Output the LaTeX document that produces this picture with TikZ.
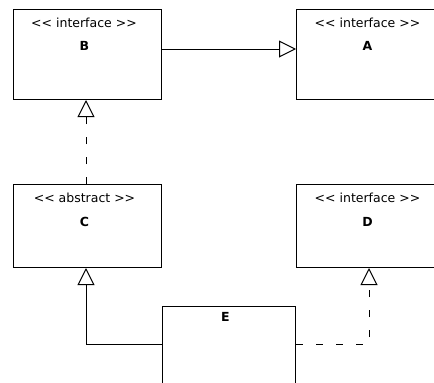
\documentclass[tikz,border=0pt]{standalone}
\usepackage{fontspec}
\setmainfont{DejaVu Sans}
\usetikzlibrary{arrows.meta}
\tikzset{
  umlbox/.style={draw=black, line width=1pt, fill=white, inner sep=0pt, minimum width=148pt, anchor=north west},
  stereo/.style={font=\fontsize{12.5}{14}\selectfont, inner sep=0pt, anchor=base},
  cname/.style={font=\fontsize{12.5}{14}\selectfont\bfseries, inner sep=0pt, anchor=base},
  conn/.style={draw=black, line width=1pt},
  gen/.style={-{Triangle[open, length=17pt, width=17pt, fill=white]}},
  realize/.style={dash pattern=on 7pt off 13pt}
}
\begin{document}
\begin{tikzpicture}[x=1pt, y=-1pt]
\useasboundingbox (0,0) rectangle (434,383);
\clip (0,0) rectangle (434,383);
\fill[white] (0,0) rectangle (434,383);
% boxes
\node[umlbox, minimum height=90pt] (B) at (13,9) {};
\node[umlbox, minimum height=90pt] (A) at (296,9) {};
\node[umlbox, minimum height=83pt] (C) at (13,184) {};
\node[umlbox, minimum height=83pt] (D) at (296,184) {};
\node[umlbox, minimum width=133pt, minimum height=90pt] (E) at (162,306) {};
% texts
\node[stereo] (Bs) at (84,27) {<{}< interface >{}>};
\node[cname] (Bn) at (84.5,50) {B};
\node[stereo] (As) at (367.5,27) {<{}< interface >{}>};
\node[cname] (An) at (367.5,50) {A};
\node[stereo] (Cs) at (84.5,202) {<{}< abstract >{}>};
\node[cname] (Cn) at (84.5,226) {C};
\node[stereo] (Ds) at (367.5,202) {<{}< interface >{}>};
\node[cname] (Dn) at (367.5,226) {D};
\node[cname] (En) at (225.5,321) {E};
% connectors
\coordinate (ce) at (86,344);
\coordinate (de) at (369,344);
\draw[conn, gen] (B.east |- 0,49) -- (A.west |- 0,49);
\draw[conn, gen, realize] (C.north -| 86,0) -- (B.south -| 86,0);
\draw[conn, gen] (E.west |- ce) -- (ce) -- (C.south -| ce);
\draw[conn, gen, realize] (E.east |- de) -- (de) -- (D.south -| de);
\end{tikzpicture}
\end{document}
